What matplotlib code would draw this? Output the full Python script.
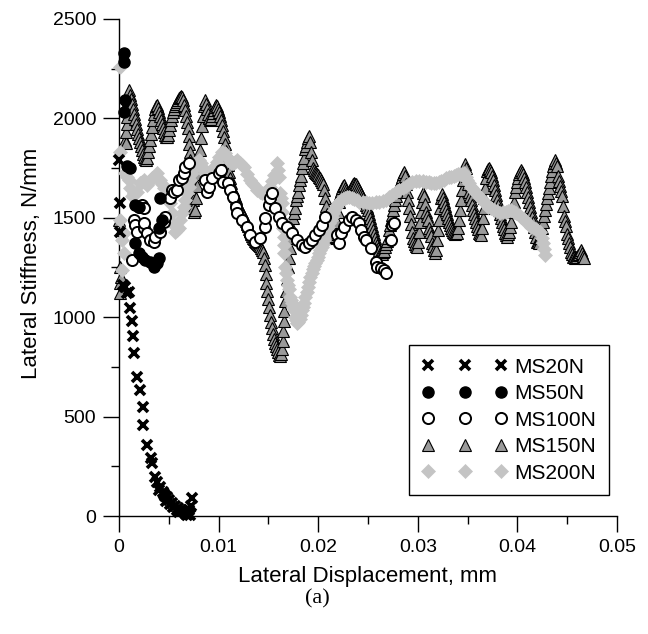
import numpy as np
import matplotlib
matplotlib.use('Agg')
import matplotlib.pyplot as plt
from matplotlib.ticker import MultipleLocator, FixedLocator

# --- data (x in mm, y in N/mm) ---
ms20n = [(0.0000, 1790), (0.0001, 1573), (0.0001, 1430), (0.0006, 1153), (0.0008, 1120),
         (0.0004, 1162), (0.0010, 1128), (0.0011, 1046), (0.0013, 981), (0.0014, 905),
         (0.0015, 820), (0.0018, 701), (0.0021, 634), (0.0024, 550), (0.0024, 458),
         (0.0028, 357), (0.0032, 292), (0.0033, 267), (0.0036, 198), (0.0038, 170),
         (0.0040, 130), (0.0041, 147), (0.0044, 120), (0.0045, 110), (0.0046, 100),
         (0.0047, 75), (0.0048, 97), (0.0050, 80), (0.0051, 60), (0.0053, 65),
         (0.0054, 45), (0.0056, 50), (0.0058, 30), (0.0059, 40), (0.0060, 20),
         (0.0062, 30), (0.0064, 25), (0.0066, 15), (0.0067, 10), (0.0068, 5),
         (0.0069, 8), (0.0070, 30), (0.0071, 5), (0.0072, 50), (0.0073, 90)]

ms50n = [(0.0005, 2327), (0.0005, 2285), (0.0006, 2092), (0.0005, 2034), (0.0008, 1760),
         (0.0011, 1749), (0.0016, 1564), (0.0020, 1556), (0.0041, 1598), (0.0043, 1489),
         (0.0040, 1447), (0.0016, 1372), (0.0020, 1321), (0.0023, 1304), (0.0026, 1288),
         (0.0031, 1279), (0.0035, 1254), (0.0038, 1271), (0.0040, 1296)]

ms100n = [(0.0013, 1288), (0.0015, 1489), (0.0016, 1464), (0.0018, 1430), (0.0020, 1556),
          (0.0023, 1564), (0.0025, 1550), (0.0025, 1447), (0.0025, 1472), (0.0028, 1422),
          (0.0031, 1388), (0.0035, 1380), (0.0036, 1405), (0.0041, 1430), (0.0045, 1480),
          (0.0046, 1506), (0.0051, 1598), (0.0053, 1640), (0.0055, 1631), (0.0058, 1640),
          (0.0060, 1690), (0.0063, 1698), (0.0065, 1724), (0.0066, 1757), (0.0070, 1774),
          (0.0086, 1690), (0.0088, 1631), (0.0090, 1656), (0.0093, 1700), (0.0100, 1724),
          (0.0102, 1740), (0.0104, 1682), (0.0109, 1673), (0.0111, 1640), (0.0114, 1606),
          (0.0117, 1556), (0.0119, 1523), (0.0124, 1489), (0.0129, 1455), (0.0132, 1413),
          (0.0137, 1380), (0.0142, 1397), (0.0147, 1455), (0.0147, 1497), (0.0151, 1564),
          (0.0152, 1598), (0.0154, 1623), (0.0157, 1548), (0.0161, 1506), (0.0164, 1472),
          (0.0169, 1455), (0.0174, 1422), (0.0179, 1388), (0.0184, 1363), (0.0187, 1355),
          (0.0191, 1372), (0.0194, 1388), (0.0197, 1413), (0.0201, 1439), (0.0204, 1464),
          (0.0207, 1506), (0.0219, 1413), (0.0221, 1372), (0.0223, 1422), (0.0226, 1455),
          (0.0231, 1489), (0.0234, 1506), (0.0238, 1489), (0.0241, 1472), (0.0243, 1439),
          (0.0246, 1405), (0.0248, 1388), (0.0253, 1346), (0.0258, 1279), (0.0259, 1254),
          (0.0263, 1246), (0.0266, 1237), (0.0268, 1221), (0.0273, 1388), (0.0274, 1464),
          (0.0276, 1472)]

ms150n = [(0.0001, 1120), (0.0001, 1170), (0.0002, 1204), (0.0001, 1250), (0.0000, 1489),
          (0.0002, 1440), (0.0006, 1891), (0.0007, 1876), (0.0007, 1930), (0.0008, 1970),
          (0.0008, 2007), (0.0009, 2050), (0.0009, 2090), (0.0010, 2143), (0.0011, 2120),
          (0.0012, 2095), (0.0013, 2070), (0.0014, 2045), (0.0015, 2020), (0.0016, 1995),
          (0.0017, 1970), (0.0018, 1945), (0.0019, 1920), (0.0020, 1900), (0.0021, 1880),
          (0.0022, 1860), (0.0023, 1840), (0.0024, 1820), (0.0025, 1805), (0.0026, 1795),
          (0.0027, 1791), (0.0028, 1800), (0.0029, 1830), (0.0030, 1860), (0.0031, 1890),
          (0.0032, 1920), (0.0033, 1955), (0.0034, 1990), (0.0035, 2020), (0.0036, 2045),
          (0.0037, 2060), (0.0038, 2065), (0.0039, 2050), (0.0040, 2030), (0.0041, 2010),
          (0.0042, 1990), (0.0043, 1970), (0.0044, 1950), (0.0045, 1930), (0.0046, 1915),
          (0.0047, 1908), (0.0048, 1905), (0.0049, 1915), (0.0050, 1940), (0.0051, 1965),
          (0.0052, 1990), (0.0053, 2010), (0.0054, 2030), (0.0055, 2045), (0.0056, 2060),
          (0.0057, 2070), (0.0058, 2080), (0.0059, 2090), (0.0060, 2100), (0.0061, 2105),
          (0.0062, 2110), (0.0063, 2105), (0.0064, 2090), (0.0065, 2065), (0.0066, 2040),
          (0.0067, 2010), (0.0068, 1980), (0.0069, 1950), (0.0070, 1910), (0.0070, 1870),
          (0.0071, 1830), (0.0071, 1790), (0.0072, 1750), (0.0072, 1710), (0.0073, 1670),
          (0.0073, 1630), (0.0074, 1590), (0.0074, 1550), (0.0075, 1530), (0.0076, 1540),
          (0.0077, 1600), (0.0078, 1660), (0.0079, 1720), (0.0080, 1780), (0.0081, 1840),
          (0.0082, 1900), (0.0083, 1960), (0.0084, 2010), (0.0085, 2060), (0.0086, 2092),
          (0.0087, 2070), (0.0088, 2045), (0.0089, 2020), (0.0090, 2000), (0.0091, 1990),
          (0.0092, 1995), (0.0093, 2010), (0.0094, 2025), (0.0095, 2040), (0.0096, 2055),
          (0.0097, 2065), (0.0098, 2060), (0.0099, 2045), (0.0100, 2030), (0.0101, 2010),
          (0.0102, 1990), (0.0103, 1965), (0.0104, 1935), (0.0105, 1905), (0.0106, 1870),
          (0.0107, 1835), (0.0108, 1800), (0.0109, 1765), (0.0110, 1730), (0.0111, 1700),
          (0.0112, 1675), (0.0113, 1650), (0.0114, 1638), (0.0115, 1625), (0.0116, 1612),
          (0.0117, 1600), (0.0118, 1588), (0.0119, 1575), (0.0120, 1565), (0.0121, 1555),
          (0.0122, 1545), (0.0123, 1535), (0.0124, 1525), (0.0125, 1515), (0.0126, 1505),
          (0.0127, 1495), (0.0128, 1482), (0.0129, 1470), (0.0130, 1458), (0.0131, 1445),
          (0.0132, 1432), (0.0133, 1420), (0.0134, 1410), (0.0135, 1400), (0.0136, 1392),
          (0.0137, 1385), (0.0138, 1380), (0.0139, 1375), (0.0140, 1370), (0.0141, 1365),
          (0.0142, 1358), (0.0143, 1350), (0.0144, 1340), (0.0145, 1330), (0.0146, 1300),
          (0.0147, 1260), (0.0148, 1215), (0.0148, 1170), (0.0149, 1130), (0.0150, 1090),
          (0.0151, 1050), (0.0152, 1010), (0.0153, 975), (0.0154, 945), (0.0155, 915),
          (0.0156, 890), (0.0157, 870), (0.0158, 855), (0.0159, 840), (0.0160, 825),
          (0.0161, 812), (0.0162, 805), (0.0163, 815), (0.0164, 840), (0.0165, 880),
          (0.0165, 930), (0.0166, 980), (0.0166, 1030), (0.0167, 1080), (0.0168, 1130),
          (0.0169, 1190), (0.0170, 1250), (0.0171, 1300), (0.0172, 1350), (0.0173, 1400),
          (0.0174, 1450), (0.0175, 1500), (0.0176, 1525), (0.0177, 1550), (0.0178, 1590),
          (0.0179, 1610), (0.0180, 1630), (0.0181, 1665), (0.0182, 1688), (0.0183, 1710),
          (0.0184, 1750), (0.0185, 1775), (0.0186, 1800), (0.0187, 1845), (0.0188, 1862),
          (0.0189, 1880), (0.0190, 1900), (0.0191, 1911), (0.0192, 1880), (0.0193, 1830),
          (0.0194, 1790), (0.0195, 1750), (0.0196, 1740), (0.0197, 1730), (0.0198, 1725),
          (0.0199, 1720), (0.0200, 1713), (0.0201, 1707), (0.0202, 1698), (0.0203, 1690),
          (0.0204, 1680), (0.0205, 1670), (0.0206, 1640), (0.0207, 1600), (0.0208, 1560),
          (0.0209, 1520), (0.0210, 1480), (0.0211, 1440), (0.0212, 1410), (0.0213, 1403),
          (0.0214, 1400), (0.0215, 1404), (0.0216, 1410), (0.0217, 1418), (0.0218, 1430),
          (0.0219, 1480), (0.0220, 1530), (0.0221, 1580), (0.0222, 1620), (0.0223, 1636),
          (0.0224, 1650), (0.0225, 1660), (0.0226, 1665), (0.0227, 1652), (0.0228, 1640),
          (0.0229, 1630), (0.0230, 1625), (0.0231, 1630), (0.0232, 1640), (0.0233, 1650),
          (0.0234, 1660), (0.0235, 1668), (0.0236, 1673), (0.0237, 1672), (0.0238, 1670),
          (0.0239, 1660), (0.0240, 1650), (0.0241, 1640), (0.0242, 1630), (0.0243, 1620),
          (0.0244, 1610), (0.0245, 1600), (0.0246, 1590), (0.0247, 1578), (0.0248, 1565),
          (0.0249, 1552), (0.0250, 1540), (0.0251, 1520), (0.0252, 1500), (0.0253, 1480),
          (0.0254, 1460), (0.0255, 1440), (0.0256, 1420), (0.0257, 1400), (0.0258, 1380),
          (0.0259, 1365), (0.0260, 1350), (0.0261, 1337), (0.0262, 1325), (0.0263, 1322),
          (0.0264, 1320), (0.0265, 1327), (0.0266, 1335), (0.0267, 1352), (0.0268, 1370),
          (0.0269, 1385), (0.0270, 1400), (0.0271, 1440), (0.0272, 1465), (0.0273, 1490),
          (0.0274, 1515), (0.0275, 1540), (0.0276, 1565), (0.0277, 1590), (0.0278, 1610),
          (0.0279, 1630), (0.0280, 1645), (0.0281, 1660), (0.0282, 1675), (0.0283, 1690),
          (0.0284, 1705), (0.0285, 1720), (0.0286, 1732), (0.0287, 1710), (0.0288, 1670),
          (0.0289, 1630), (0.0290, 1590), (0.0291, 1550), (0.0292, 1510), (0.0293, 1470),
          (0.0294, 1430), (0.0295, 1400), (0.0296, 1385), (0.0297, 1370), (0.0298, 1360),
          (0.0299, 1355), (0.0300, 1380), (0.0301, 1430), (0.0302, 1480), (0.0303, 1530),
          (0.0304, 1580), (0.0305, 1625), (0.0306, 1610), (0.0307, 1570), (0.0308, 1530),
          (0.0309, 1510), (0.0310, 1490), (0.0311, 1450), (0.0312, 1430), (0.0313, 1410),
          (0.0314, 1375), (0.0315, 1358), (0.0316, 1340), (0.0317, 1321), (0.0318, 1340),
          (0.0319, 1390), (0.0320, 1440), (0.0321, 1490), (0.0322, 1550), (0.0323, 1600),
          (0.0324, 1620), (0.0325, 1600), (0.0326, 1580), (0.0327, 1560), (0.0328, 1540),
          (0.0329, 1520), (0.0330, 1500), (0.0331, 1480), (0.0332, 1465), (0.0333, 1450),
          (0.0334, 1440), (0.0335, 1430), (0.0336, 1425), (0.0337, 1420), (0.0338, 1422),
          (0.0339, 1425), (0.0340, 1450), (0.0341, 1490), (0.0342, 1540), (0.0343, 1590),
          (0.0344, 1640), (0.0345, 1690), (0.0346, 1735), (0.0347, 1770), (0.0348, 1750),
          (0.0349, 1710), (0.0350, 1670), (0.0351, 1630), (0.0352, 1610), (0.0353, 1590),
          (0.0354, 1565), (0.0355, 1540), (0.0356, 1520), (0.0357, 1500), (0.0358, 1480),
          (0.0359, 1460), (0.0360, 1442), (0.0361, 1425), (0.0362, 1418), (0.0363, 1413),
          (0.0364, 1450), (0.0365, 1500), (0.0366, 1550), (0.0367, 1600), (0.0368, 1650),
          (0.0369, 1700), (0.0370, 1735), (0.0371, 1743), (0.0372, 1749), (0.0373, 1740),
          (0.0374, 1730), (0.0375, 1710), (0.0376, 1690), (0.0377, 1665), (0.0378, 1640),
          (0.0379, 1615), (0.0380, 1590), (0.0381, 1565), (0.0382, 1540), (0.0383, 1520),
          (0.0384, 1500), (0.0385, 1480), (0.0386, 1460), (0.0387, 1442), (0.0388, 1425),
          (0.0389, 1415), (0.0390, 1405), (0.0391, 1418), (0.0392, 1430), (0.0393, 1455),
          (0.0394, 1480), (0.0395, 1530), (0.0396, 1555), (0.0397, 1580), (0.0398, 1630),
          (0.0399, 1655), (0.0400, 1680), (0.0401, 1700), (0.0402, 1720), (0.0403, 1730),
          (0.0404, 1740), (0.0405, 1730), (0.0406, 1720), (0.0407, 1700), (0.0408, 1680),
          (0.0409, 1655), (0.0410, 1630), (0.0411, 1605), (0.0412, 1580), (0.0413, 1555),
          (0.0414, 1530), (0.0415, 1505), (0.0416, 1480), (0.0417, 1455), (0.0418, 1430),
          (0.0419, 1405), (0.0420, 1380), (0.0421, 1376), (0.0422, 1372), (0.0423, 1396),
          (0.0424, 1420), (0.0425, 1450), (0.0426, 1480), (0.0427, 1510), (0.0428, 1540),
          (0.0429, 1570), (0.0430, 1600), (0.0431, 1625), (0.0432, 1650), (0.0433, 1680),
          (0.0434, 1710), (0.0435, 1735), (0.0436, 1760), (0.0437, 1775), (0.0438, 1791),
          (0.0439, 1775), (0.0440, 1760), (0.0441, 1710), (0.0442, 1685), (0.0443, 1660),
          (0.0444, 1635), (0.0445, 1610), (0.0446, 1560), (0.0447, 1510), (0.0448, 1485),
          (0.0449, 1460), (0.0450, 1420), (0.0451, 1398), (0.0452, 1375), (0.0453, 1352),
          (0.0454, 1330), (0.0455, 1318), (0.0456, 1305), (0.0457, 1302), (0.0458, 1300),
          (0.0459, 1302), (0.0460, 1304), (0.0461, 1312), (0.0462, 1320), (0.0463, 1330),
          (0.0464, 1338), (0.0465, 1325), (0.0466, 1310), (0.0467, 1296)]

ms200n = [(0.0001, 2260), (0.0001, 1832), (0.0001, 1489), (0.0003, 1388), (0.0005, 1422),
          (0.0005, 1321), (0.0003, 1237), (0.0006, 1724), (0.0008, 1705), (0.0010, 1690),
          (0.0011, 1648), (0.0013, 1610), (0.0015, 1623), (0.0018, 1631), (0.0021, 1673),
          (0.0023, 1682), (0.0025, 1690), (0.0028, 1665), (0.0031, 1690), (0.0033, 1700),
          (0.0035, 1707), (0.0038, 1724), (0.0041, 1690), (0.0043, 1670), (0.0045, 1648),
          (0.0048, 1615), (0.0051, 1573), (0.0053, 1523), (0.0055, 1464), (0.0056, 1430),
          (0.0058, 1438), (0.0060, 1447), (0.0061, 1489), (0.0063, 1523), (0.0065, 1556),
          (0.0066, 1590), (0.0068, 1623), (0.0070, 1656), (0.0071, 1690), (0.0073, 1724),
          (0.0075, 1750), (0.0076, 1774), (0.0078, 1783), (0.0080, 1791), (0.0082, 1774),
          (0.0083, 1757), (0.0085, 1740), (0.0086, 1724), (0.0088, 1720), (0.0090, 1715),
          (0.0093, 1736), (0.0095, 1757), (0.0098, 1782), (0.0100, 1807), (0.0103, 1832),
          (0.0106, 1824), (0.0109, 1800), (0.0112, 1774), (0.0114, 1778), (0.0116, 1782),
          (0.0119, 1791), (0.0122, 1774), (0.0124, 1765), (0.0126, 1757), (0.0129, 1720),
          (0.0132, 1690), (0.0134, 1677), (0.0136, 1665), (0.0139, 1640), (0.0142, 1630),
          (0.0144, 1626), (0.0146, 1623), (0.0149, 1640), (0.0152, 1656), (0.0154, 1685),
          (0.0156, 1715), (0.0159, 1774), (0.0160, 1740), (0.0161, 1707), (0.0162, 1623),
          (0.0163, 1598), (0.0164, 1573), (0.0164, 1530), (0.0164, 1489), (0.0165, 1447),
          (0.0166, 1405), (0.0166, 1363), (0.0166, 1321), (0.0167, 1254), (0.0168, 1220),
          (0.0169, 1187), (0.0170, 1163), (0.0171, 1140), (0.0172, 1103), (0.0173, 1086),
          (0.0174, 1070), (0.0175, 1053), (0.0176, 1036), (0.0177, 1000), (0.0178, 985),
          (0.0179, 969), (0.0180, 975), (0.0182, 990), (0.0183, 1013), (0.0184, 1036),
          (0.0185, 1053), (0.0186, 1070), (0.0187, 1103), (0.0189, 1127), (0.0190, 1150),
          (0.0191, 1177), (0.0192, 1204), (0.0194, 1222), (0.0195, 1240), (0.0196, 1256),
          (0.0197, 1271), (0.0199, 1288), (0.0200, 1305), (0.0201, 1322), (0.0202, 1338),
          (0.0204, 1354), (0.0205, 1370), (0.0206, 1388), (0.0207, 1405), (0.0208, 1422),
          (0.0209, 1440), (0.0210, 1456), (0.0211, 1472), (0.0213, 1488), (0.0214, 1505),
          (0.0215, 1522), (0.0216, 1539), (0.0218, 1552), (0.0219, 1565), (0.0221, 1578),
          (0.0223, 1590), (0.0225, 1595), (0.0227, 1600), (0.0229, 1603), (0.0231, 1606),
          (0.0234, 1600), (0.0236, 1595), (0.0239, 1588), (0.0241, 1581), (0.0245, 1579),
          (0.0248, 1577), (0.0251, 1575), (0.0254, 1573), (0.0258, 1577), (0.0261, 1580),
          (0.0265, 1585), (0.0268, 1590), (0.0271, 1602), (0.0274, 1615), (0.0278, 1628),
          (0.0281, 1640), (0.0285, 1651), (0.0288, 1662), (0.0291, 1672), (0.0294, 1682),
          (0.0298, 1683), (0.0301, 1684), (0.0305, 1683), (0.0308, 1682), (0.0311, 1679),
          (0.0313, 1676), (0.0316, 1674), (0.0318, 1673), (0.0321, 1680), (0.0323, 1686),
          (0.0326, 1692), (0.0328, 1698), (0.0331, 1703), (0.0333, 1707), (0.0336, 1711),
          (0.0338, 1715), (0.0340, 1718), (0.0342, 1720), (0.0344, 1722), (0.0346, 1724),
          (0.0348, 1707), (0.0349, 1690), (0.0351, 1673), (0.0353, 1656), (0.0355, 1643),
          (0.0357, 1630), (0.0359, 1618), (0.0361, 1606), (0.0364, 1593), (0.0366, 1580),
          (0.0369, 1568), (0.0371, 1556), (0.0374, 1548), (0.0377, 1540), (0.0380, 1532),
          (0.0383, 1523), (0.0386, 1527), (0.0389, 1530), (0.0391, 1535), (0.0394, 1539),
          (0.0397, 1530), (0.0399, 1522), (0.0402, 1514), (0.0404, 1506), (0.0407, 1493),
          (0.0409, 1480), (0.0412, 1468), (0.0414, 1455), (0.0417, 1448), (0.0419, 1442),
          (0.0421, 1436), (0.0423, 1430), (0.0425, 1400), (0.0426, 1372), (0.0427, 1342),
          (0.0428, 1313)]

x_ticks = [0, 0.01, 0.02, 0.03, 0.04, 0.05]
x_tick_labels = ['0', '0.01', '0.02', '0.03', '0.04', '0.05']
y_ticks = [0, 500, 1000, 1500, 2000, 2500]

plt.rcParams['font.family'] = ['Liberation Sans', 'DejaVu Sans']

fig = plt.figure(figsize=(6.48, 6.34), dpi=100)
ax = fig.add_axes([0.1836, 0.1861, 0.7685, 0.784])

s150 = np.array(ms150n)
s200 = np.array(ms200n)
s100 = np.array(ms100n)
s50 = np.array(ms50n)
s20 = np.array(ms20n)

ax.plot(s150[:, 0], s150[:, 1], ls='none', marker='^', ms=8.5, mfc='#9a9a9a', mec='black',
        mew=0.8, label='MS150N', clip_on=False, zorder=3)
ax.plot(s200[:, 0], s200[:, 1], ls='none', marker='D', ms=7, mfc='#c4c4c4', mec='#c4c4c4',
        mew=0.5, label='MS200N', clip_on=False, zorder=4)
ax.plot(s100[:, 0], s100[:, 1], ls='none', marker='o', ms=8, mfc='white', mec='black',
        mew=1.4, label='MS100N', clip_on=False, zorder=5)
ax.plot(s50[:, 0], s50[:, 1], ls='none', marker='o', ms=8, mfc='black', mec='black',
        label='MS50N', clip_on=False, zorder=6)
ax.plot(s20[:, 0], s20[:, 1], ls='none', marker='x', ms=7, mec='black', mew=2.6,
        label='MS20N', clip_on=False, zorder=7)

ax.set_xlim(0, 0.05)
ax.set_ylim(0, 2500)
ax.xaxis.set_major_locator(FixedLocator(x_ticks))
ax.set_xticklabels(x_tick_labels)
ax.xaxis.set_minor_locator(MultipleLocator(0.005))
ax.yaxis.set_major_locator(FixedLocator(y_ticks))
ax.yaxis.set_minor_locator(MultipleLocator(250))

for side in ['top', 'right']:
    ax.spines[side].set_visible(False)
for side in ['left', 'bottom']:
    ax.spines[side].set_linewidth(1.0)
ax.tick_params(which='major', direction='out', length=11.5, width=1.0, labelsize=14, pad=5)
ax.tick_params(which='minor', direction='out', length=5.8, width=1.0)

ax.set_xlabel('Lateral Displacement, mm', fontsize=16)
ax.set_ylabel('Lateral Stiffness, N/mm', fontsize=16)
ax.xaxis.set_label_coords(0.5, -0.10)
ax.yaxis.set_label_coords(-0.155, 0.509)

handles, labels = ax.get_legend_handles_labels()
order = [4, 3, 2, 0, 1]
leg = ax.legend([handles[i] for i in order], [labels[i] for i in order],
                loc='lower right', bbox_to_anchor=(0.984, 0.042), borderaxespad=0,
                numpoints=3, handlelength=4.1, handletextpad=0.35, labelspacing=0.36,
                fontsize=15, fancybox=False, framealpha=1, edgecolor='black',
                borderpad=0.6)
leg.get_frame().set_linewidth(1.0)

fig.text(0.49, 0.055, '(a)', fontsize=16, family=['Liberation Serif', 'DejaVu Serif'],
         ha='center', va='center')

fig.savefig('out.png', dpi=100)
